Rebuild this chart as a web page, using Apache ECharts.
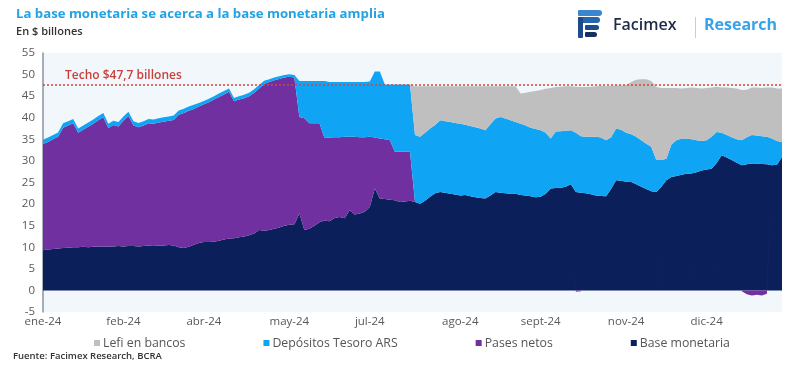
<!DOCTYPE html>
<html>
<head>
<meta charset="utf-8">
<script src="https://cdn.jsdelivr.net/npm/echarts@6/dist/echarts.min.js"></script>
<style>
  html, body { margin: 0; padding: 0; background: #ffffff; }
  #chart { width: 800px; height: 368px; }
</style>
</head>
<body>
<div id="chart"></div>
<script>
// ---- Data ($ billones, daily-ish samples through 2024) ----
const tickLabels = ['ene-24', 'feb-24', 'abr-24', 'may-24', 'jul-24', 'ago-24', 'sept-24', 'nov-24', 'dic-24'];
const tickIdx = [0, 16, 32, 49, 65, 83, 99, 116, 132];

const baseMonetaria = [
  9.3,9.5,9.6,9.7,9.8,9.9,10.0,10.0,10.1,10.0,
  10.1,10.2,10.2,10.1,10.2,10.3,10.2,10.3,10.3,10.2,
  10.3,10.4,10.3,10.4,10.4,10.5,10.4,10.0,9.8,10.1,
  10.6,11.0,11.2,11.2,11.3,11.5,11.8,12.0,12.1,12.3,
  12.5,12.8,13.2,14.0,13.8,14.0,14.3,14.6,15.0,15.2,
  15.3,17.8,14.0,14.3,15.0,15.8,16.2,16.0,16.8,17.0,
  16.7,18.6,17.6,17.8,18.2,19.3,23.6,21.3,21.2,21.0,
  20.9,20.5,20.6,20.8,20.5,20.1,20.8,21.7,22.5,22.8,
  22.6,22.4,22.2,22.0,22.1,21.8,21.6,21.4,21.3,22.0,
  22.8,22.6,22.5,22.4,22.4,22.1,22.0,21.8,21.6,21.7,
  22.4,23.6,23.7,23.8,24.0,24.6,22.8,22.6,22.5,22.3,
  22.0,21.9,21.8,23.5,25.5,25.4,25.2,25.1,24.6,24.0,
  23.5,23.0,22.8,24.0,25.5,26.3,26.5,26.8,27.0,27.1,
  27.4,27.8,28.0,28.2,29.5,31.3,30.8,30.2,29.6,29.0,
  29.2,29.4,29.4,29.3,29.2,29.0,29.1,30.9
];

const pasesNetos = [
  24.6,24.9,25.4,25.9,27.9,28.3,28.7,26.5,27.1,27.9,
  28.5,29.2,29.9,27.5,28.1,27.7,29.1,30.1,27.9,27.6,
  27.9,28.3,28.3,28.5,28.7,28.8,29.1,30.7,31.3,31.5,
  31.4,31.6,31.9,32.4,32.9,33.3,33.6,34.0,31.7,31.9,
  32.0,32.2,32.6,32.8,34.0,34.3,34.4,34.4,34.3,34.3,
  34.0,22.4,25.9,24.4,23.7,22.9,19.1,19.4,18.7,18.5,
  18.9,17.0,18.0,17.7,17.3,16.3,11.8,13.9,13.8,13.8,
  11.2,11.6,11.5,11.3,0,0,0,0,0,0,
  0,0,0,0,0,0,0,0,0,0,
  0,0,0,0,0,0,0,0,0,0,
  0,0,0,0,0,0,-0.3,-0.2,0,0,
  0,0,0,0,0,0,0,0,0,0,
  0,0,0,-0.2,0,0,0,0,0,-0.2,
  0,0,0,0,-0.2,0,0,0,0,-0.2,
  -0.9,-1.2,-1.0,-1.2,-0.8,0,0,0
];

const depositosTesoro = [
  1.0,1.0,1.0,1.0,1.0,1.0,1.0,1.0,1.0,1.0,
  1.0,1.0,1.0,1.0,1.0,1.0,1.0,1.0,1.0,1.0,
  1.0,1.0,1.0,1.0,1.0,1.0,1.0,1.0,1.0,1.0,
  1.0,0.8,0.8,0.8,0.8,0.8,0.8,0.8,0.8,0.8,
  0.8,0.8,0.8,0.8,0.8,0.6,0.6,0.6,0.6,0.6,
  0.6,8.3,8.6,9.8,9.8,9.8,13.2,12.9,12.8,12.8,
  12.7,12.7,12.7,12.8,12.8,12.8,15.3,15.5,12.7,12.9,
  15.6,15.6,15.6,15.6,15.5,15.5,15.7,15.8,15.8,16.6,
  16.6,16.6,16.6,16.6,16.3,16.3,16.2,16.1,15.8,16.5,
  17.0,17.6,17.3,17.0,16.6,16.5,16.2,15.9,15.8,15.4,
  14.1,11.6,13.1,13.1,13.0,12.5,13.7,13.1,13.1,13.3,
  13.6,13.5,13.0,12.0,12.0,11.8,11.3,11.1,11.0,10.8,
  10.5,10.3,7.4,6.2,5.0,7.5,8.3,8.4,8.2,7.9,
  7.4,6.8,6.8,7.4,7.2,5.2,5.2,5.3,5.4,5.8,
  6.3,6.6,6.5,6.4,6.4,6.2,5.5,3.5
];

const lefiBancos = [
  0,0,0,0,0,0,0,0,0,0,
  0,0,0,0,0,0,0,0,0,0,
  0,0,0,0,0,0,0,0,0,0,
  0,0,0,0,0,0,0,0,0,0,
  0,0,0,0,0,0,0,0,0,0,
  0,0,0,0,0,0,0,0,0,0,
  0,0,0,0,0,0,0,0,0,0,
  0,0,0,0,11.3,11.7,10.8,9.8,9.0,7.9,
  8.1,8.3,8.5,8.7,8.9,9.2,9.5,9.8,10.2,8.8,
  7.5,7.1,7.5,7.9,8.3,7.0,7.6,8.3,8.8,9.3,
  10.2,11.7,10.3,10.3,10.3,10.2,10.7,11.4,11.5,11.6,
  11.7,12.0,12.5,11.9,10.0,10.3,11.1,12.1,13.2,14.1,
  14.9,15.2,16.9,16.7,16.4,13.1,12.1,11.6,11.7,12.0,
  12.1,12.2,12.1,11.4,10.5,10.5,11.0,11.4,11.8,11.6,
  11.0,11.0,11.1,11.2,11.4,11.8,12.2,12.4
];

const techo = 47.7;
const yTicks = { min: -5, max: 55, interval: 5 };

const seriesNames = ['Lefi en bancos', 'Depósitos Tesoro ARS', 'Pases netos', 'Base monetaria'];
const colors = { lefi: '#bfbfbf', dep: '#10a4f4', pases: '#7030a0', base: '#0b1f5b' };

// categories: one slot per sample, labelled only at the tick positions
const categories = baseMonetaria.map((_, i) => {
  const k = tickIdx.indexOf(i);
  return k >= 0 ? tickLabels[k] : '';
});

const chart = echarts.init(document.getElementById('chart'), null, { renderer: 'canvas' });

const FONT = 'Open Sans';

function areaSeries(name, data, color, extra) {
  return Object.assign({
    name: name,
    type: 'line',
    stack: 'total',
    data: data,
    showSymbol: false,
    symbol: 'none',
    lineStyle: { width: 0 },
    areaStyle: { color: color, opacity: 1 },
    itemStyle: { color: color },
    emphasis: { disabled: true },
    silent: true
  }, extra || {});
}

const option = {
  animation: false,
  backgroundColor: '#ffffff',
  textStyle: { fontFamily: FONT },
  title: {
    text: 'La base monetaria se acerca a la base monetaria amplia',
    subtext: 'En $ billones',
    left: 11,
    top: 3,
    itemGap: 5,
    textStyle: { color: '#22a3e3', fontSize: 13.2, fontWeight: 'bold', fontFamily: FONT },
    subtextStyle: { color: '#333333', fontSize: 11, fontWeight: 600, fontFamily: FONT }
  },
  legend: {
    data: seriesNames,
    left: 89,
    top: 332,
    itemGap: 78,
    itemWidth: 6,
    itemHeight: 6,
    icon: 'rect',
    textStyle: { color: '#555555', fontSize: 12.3, fontFamily: FONT, padding: [0, 0, 0, -2] }
  },
  grid: {
    left: 43,
    right: 18,
    top: 53,
    bottom: 56,
    show: true,
    backgroundColor: '#f2f7fc',
    borderWidth: 0
  },
  xAxis: {
    type: 'category',
    data: categories,
    boundaryGap: false,
    axisLine: { show: false, onZero: false },
    axisTick: { show: false },
    axisLabel: {
      interval: (i) => tickIdx.indexOf(i) >= 0,
      color: '#595959',
      fontSize: 11.5,
      margin: 4,
      fontFamily: FONT
    },
    splitLine: { show: false }
  },
  yAxis: {
    type: 'value',
    min: yTicks.min,
    max: yTicks.max,
    interval: yTicks.interval,
    axisLine: { show: true, lineStyle: { color: '#8a93a6', width: 1.5 } },
    axisTick: { show: false },
    axisLabel: { color: '#595959', fontSize: 11.5, margin: 8, fontFamily: FONT },
    splitLine: { show: false }
  },
  series: [
    areaSeries('Base monetaria', baseMonetaria, colors.base),
    areaSeries('Pases netos', pasesNetos, colors.pases),
    areaSeries('Depósitos Tesoro ARS', depositosTesoro, colors.dep),
    areaSeries('Lefi en bancos', lefiBancos, colors.lefi, {
      markLine: {
        silent: true,
        symbol: 'none',
        animation: false,
        lineStyle: { color: '#d0453f', type: [2, 2], width: 1.6, opacity: 1 },
        label: {
          show: true,
          position: 'insideStartTop',
          formatter: 'Techo $47,7 billones',
          color: '#c9413b',
          fontSize: 12,
          fontWeight: 600,
          fontFamily: FONT,
          distance: [22, 3]
        },
        data: [{ yAxis: techo }]
      }
    })
  ],
  graphic: [
    // Facimex logo mark
    { type: 'rect', shape: { x: 578, y: 10, width: 24, height: 6, r: [1, 3, 3, 1] }, style: { fill: '#3a86cf' } },
    { type: 'rect', shape: { x: 578, y: 17, width: 22, height: 6, r: [1, 3, 3, 1] }, style: { fill: '#2566b0' } },
    { type: 'rect', shape: { x: 578, y: 17, width: 5, height: 21, r: 1 }, style: { fill: '#1d4a8a' } },
    { type: 'rect', shape: { x: 585, y: 25, width: 14, height: 5, r: [1, 3, 3, 1] }, style: { fill: '#1d4a8a' } },
    { type: 'rect', shape: { x: 585, y: 32, width: 12, height: 5, r: [1, 3, 3, 1] }, style: { fill: '#13305f' } },
    { type: 'text', left: 613, top: 17, style: { text: 'Facimex', fill: '#1e2a47', font: '600 16px "Open Sans"' } },
    { type: 'rect', shape: { x: 695, y: 17, width: 1, height: 21 }, style: { fill: '#c8ccd4' } },
    { type: 'text', left: 704, top: 17, style: { text: 'Research', fill: '#36a2ea', font: 'bold 16px "Open Sans"' } },
    // Source
    { type: 'text', left: 13, top: 351, style: { text: 'Fuente: Facimex Research, BCRA', fill: '#333333', font: '600 9.5px "Open Sans"' } }
  ]
};

chart.setOption(option);
</script>
</body>
</html>
